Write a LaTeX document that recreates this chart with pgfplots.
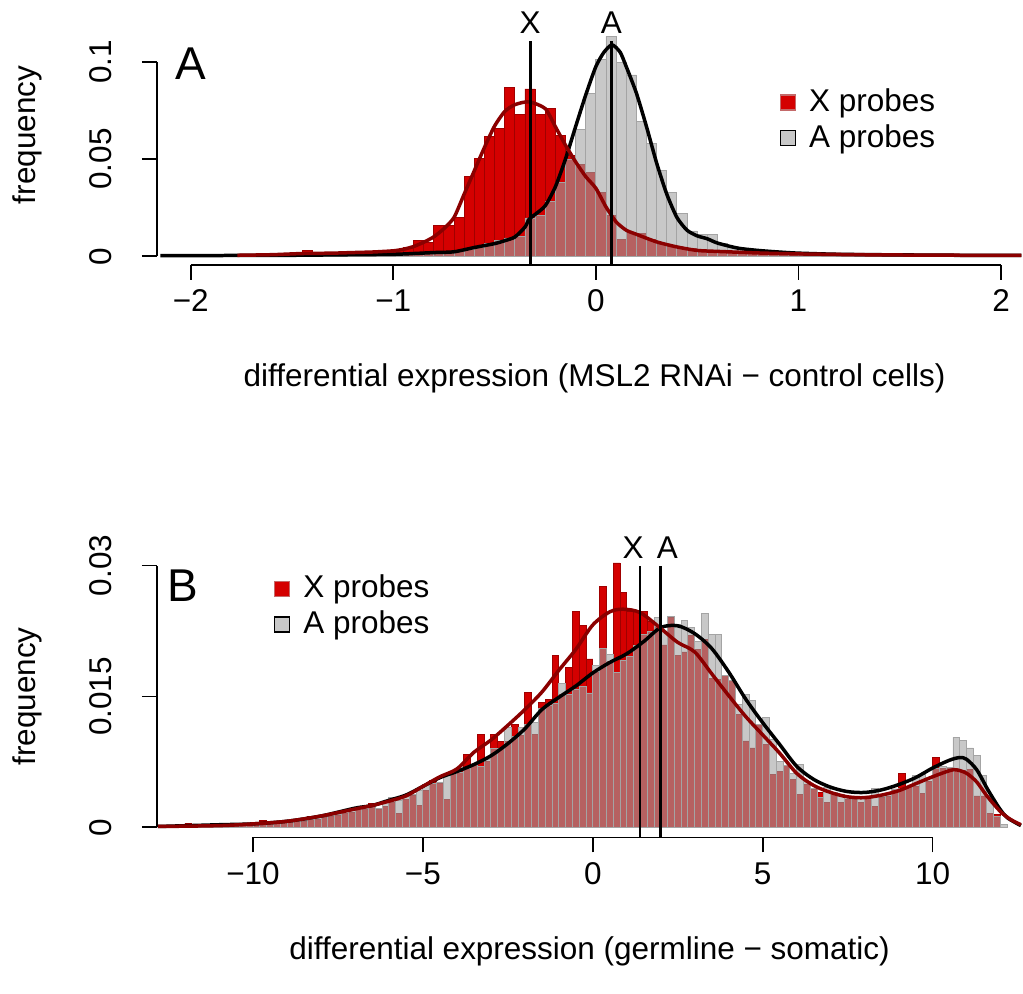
\documentclass[border=0pt]{standalone}
\usepackage{fontspec}
\setmainfont{Liberation Sans}
\usepackage{pgfplots}
\pgfplotsset{compat=1.18}
\usepackage{pgfplotstable}

\definecolor{xred}{HTML}{D40000}
\definecolor{xredline}{HTML}{A00000}
\definecolor{xredlgd}{HTML}{C46A6A}
\definecolor{agray}{HTML}{A3A3A3}
\definecolor{agrayline}{HTML}{A4A4A4}
\definecolor{lgdgray}{HTML}{C8C8C8}
\definecolor{dred}{HTML}{8B0000}

% panel A histograms (left bin edge, frequency), bin width 0.05
\pgfplotstableread{
x y
-1.60 0.0005
-1.55 0.0005
-1.50 0.0008
-1.45 0.0030
-1.40 0.0010
-1.35 0.0010
-1.30 0.0012
-1.25 0.0012
-1.20 0.0015
-1.15 0.0020
-1.10 0.0020
-1.05 0.0025
-1.00 0.0030
-0.95 0.0045
-0.90 0.0079
-0.85 0.0071
-0.80 0.0156
-0.75 0.0156
-0.70 0.0202
-0.65 0.0409
-0.60 0.0503
-0.55 0.0615
-0.50 0.0658
-0.45 0.0868
-0.40 0.0732
-0.35 0.0861
-0.30 0.0730
-0.25 0.0761
-0.20 0.0624
-0.15 0.0520
-0.10 0.0470
-0.05 0.0430
0.00 0.0330
0.05 0.0210
0.10 0.0086
0.15 0.0120
0.20 0.0117
0.25 0.0085
0.30 0.0060
0.35 0.0050
0.40 0.0043
0.45 0.0040
0.50 0.0030
0.55 0.0030
0.60 0.0022
0.65 0.0020
0.70 0.0018
0.75 0.0015
0.80 0.0012
0.85 0.0010
0.90 0.0010
0.95 0.0008
1.00 0.0008
1.05 0.0006
1.10 0.0006
1.15 0.0005
1.20 0.0005
1.25 0.0004
1.30 0.0004
1.35 0
}\redA

\pgfplotstableread{
x y
-2.10 0.0003
-2.05 0.0002
-2.00 0.0003
-1.95 0.0002
-1.90 0.0003
-1.85 0.0003
-1.80 0.0004
-1.75 0.0003
-1.70 0.0004
-1.65 0.0004
-1.60 0.0005
-1.55 0.0004
-1.50 0.0005
-1.45 0.0005
-1.40 0.0006
-1.35 0.0006
-1.30 0.0007
-1.25 0.0007
-1.20 0.0008
-1.15 0.0008
-1.10 0.0009
-1.05 0.0010
-1.00 0.0010
-0.95 0.0012
-0.90 0.0014
-0.85 0.0016
-0.80 0.0019
-0.75 0.0022
-0.70 0.0025
-0.65 0.0035
-0.60 0.0045
-0.55 0.0065
-0.50 0.0080
-0.45 0.0094
-0.40 0.0100
-0.35 0.0197
-0.30 0.0210
-0.25 0.0280
-0.20 0.0380
-0.15 0.0500
-0.10 0.0653
-0.05 0.0838
0.00 0.1014
0.05 0.1130
0.10 0.0997
0.15 0.0933
0.20 0.0692
0.25 0.0580
0.30 0.0440
0.35 0.0330
0.40 0.0220
0.45 0.0130
0.50 0.0113
0.55 0.0110
0.60 0.0065
0.65 0.0050
0.70 0.0040
0.75 0.0032
0.80 0.0026
0.85 0.0022
0.90 0.0018
0.95 0.0015
1.00 0.0012
1.05 0.0010
1.10 0.0009
1.15 0.0008
1.20 0.0008
1.25 0.0007
1.30 0.0006
1.35 0.0006
1.40 0.0005
1.45 0.0005
1.50 0.0005
1.55 0.0004
1.60 0.0004
1.65 0.0004
1.70 0.0004
1.75 0.0003
1.80 0.0003
1.85 0.0003
1.90 0.0003
1.95 0.0003
2.00 0.0003
2.05 0
}\grayA

% panel A density curves
\pgfplotstableread{
x y
-1.77 0.0005
-1.60 0.0008
-1.45 0.0014
-1.30 0.0016
-1.20 0.0019
-1.10 0.0022
-1.00 0.0028
-0.95 0.0036
-0.90 0.0050
-0.85 0.0072
-0.80 0.0100
-0.75 0.0142
-0.70 0.0200
-0.65 0.0320
-0.60 0.0440
-0.55 0.0560
-0.50 0.0670
-0.45 0.0745
-0.40 0.0780
-0.33 0.0795
-0.25 0.0760
-0.20 0.0667
-0.15 0.0572
-0.10 0.0486
-0.05 0.0410
0.00 0.0350
0.05 0.0254
0.10 0.0177
0.15 0.0134
0.20 0.0113
0.30 0.0074
0.40 0.0048
0.50 0.0030
0.60 0.0025
0.80 0.0017
1.00 0.0012
1.30 0.0008
1.60 0.0006
2.10 0.0004
}\redAd

\pgfplotstableread{
x y
-2.15 0.0003
-1.80 0.0004
-1.50 0.0005
-1.20 0.0008
-1.00 0.0010
-0.90 0.0014
-0.80 0.0019
-0.70 0.0023
-0.60 0.0045
-0.50 0.0065
-0.45 0.0080
-0.40 0.0099
-0.35 0.0150
-0.33 0.0190
-0.30 0.0215
-0.25 0.0260
-0.20 0.0357
-0.15 0.0500
-0.10 0.0667
-0.05 0.0830
0.00 0.0976
0.04 0.1050
0.08 0.1088
0.12 0.1050
0.15 0.0976
0.20 0.0840
0.25 0.0667
0.30 0.0480
0.35 0.0320
0.40 0.0200
0.45 0.0134
0.50 0.0105
0.55 0.0090
0.60 0.0068
0.70 0.0042
0.80 0.0030
0.90 0.0022
1.00 0.0016
1.20 0.0010
1.50 0.0007
1.80 0.0005
2.10 0.0004
}\grayAd

% panel B histograms (left bin edge, frequency), bin width 0.2
\pgfplotstableread{
x y
-12.0 0.0005
-11.8 0.0000
-11.6 0.0001
-11.4 0.0000
-11.2 0.0001
-11.0 0.0002
-10.8 0.0001
-10.6 0.0002
-10.4 0.0002
-10.2 0.0004
-10.0 0.0003
-9.8 0.0008
-9.6 0.0004
-9.4 0.0005
-9.2 0.0006
-9.0 0.0006
-8.8 0.0007
-8.6 0.0007
-8.4 0.0012
-8.2 0.0009
-8.0 0.0011
-7.8 0.0013
-7.6 0.0014
-7.4 0.0016
-7.2 0.0017
-7.0 0.0020
-6.8 0.0021
-6.6 0.0027
-6.4 0.0020
-6.2 0.0024
-6.0 0.0028
-5.8 0.0016
-5.6 0.0032
-5.4 0.0037
-5.2 0.0025
-5.0 0.0042
-4.8 0.0054
-4.6 0.0050
-4.4 0.0032
-4.2 0.0064
-4.0 0.0066
-3.8 0.0084
-3.6 0.0071
-3.4 0.0107
-3.2 0.0076
-3.0 0.0107
-2.8 0.0098
-2.6 0.0098
-2.4 0.0118
-2.2 0.0105
-2.0 0.0155
-1.8 0.0106
-1.6 0.0143
-1.4 0.0147
-1.2 0.0197
-1.0 0.0152
-0.8 0.0183
-0.6 0.0247
-0.4 0.0231
-0.2 0.0193
0.0 0.0178
0.2 0.0276
0.4 0.0190
0.6 0.0303
0.8 0.0269
1.0 0.0247
1.2 0.0248
1.4 0.0247
1.6 0.0236
1.8 0.0229
2.0 0.0209
2.2 0.0240
2.4 0.0197
2.6 0.0201
2.8 0.0220
3.0 0.0204
3.2 0.0215
3.4 0.0171
3.6 0.0169
3.8 0.0174
4.0 0.0168
4.2 0.0129
4.4 0.0099
4.6 0.0091
4.8 0.0118
5.0 0.0095
5.2 0.0061
5.4 0.0064
5.6 0.0071
5.8 0.0055
6.0 0.0038
6.2 0.0049
6.4 0.0044
6.6 0.0040
6.8 0.0029
7.0 0.0040
7.2 0.0028
7.4 0.0032
7.6 0.0032
7.8 0.0028
8.0 0.0036
8.2 0.0024
8.4 0.0034
8.6 0.0036
8.8 0.0044
9.0 0.0062
9.2 0.0047
9.4 0.0047
9.6 0.0039
9.8 0.0053
10.0 0.0080
10.2 0.0068
10.4 0.0068
10.6 0.0066
10.8 0.0065
11.0 0.0066
11.2 0.0036
11.4 0.0036
11.6 0.0016
11.8 0.0015
12.0 0
}\redB

\pgfplotstableread{
x y
-12.0 0.0001
-11.8 0.0001
-11.6 0.0002
-11.4 0.0002
-11.2 0.0002
-11.0 0.0003
-10.8 0.0003
-10.6 0.0003
-10.4 0.0004
-10.2 0.0003
-10.0 0.0004
-9.8 0.0004
-9.6 0.0005
-9.4 0.0005
-9.2 0.0006
-9.0 0.0007
-8.8 0.0007
-8.6 0.0008
-8.4 0.0009
-8.2 0.0011
-8.0 0.0012
-7.8 0.0014
-7.6 0.0015
-7.4 0.0018
-7.2 0.0022
-7.0 0.0020
-6.8 0.0023
-6.6 0.0024
-6.4 0.0022
-6.2 0.0029
-6.0 0.0034
-5.8 0.0031
-5.6 0.0035
-5.4 0.0038
-5.2 0.0042
-5.0 0.0049
-4.8 0.0050
-4.6 0.0052
-4.4 0.0061
-4.2 0.0062
-4.0 0.0063
-3.8 0.0068
-3.6 0.0072
-3.4 0.0070
-3.2 0.0078
-3.0 0.0090
-2.8 0.0090
-2.6 0.0114
-2.4 0.0104
-2.2 0.0115
-2.0 0.0118
-1.8 0.0120
-1.6 0.0136
-1.4 0.0140
-1.2 0.0142
-1.0 0.0165
-0.8 0.0152
-0.6 0.0158
-0.4 0.0162
-0.2 0.0154
0.0 0.0186
0.2 0.0205
0.4 0.0198
0.6 0.0177
0.8 0.0191
1.0 0.0196
1.2 0.0208
1.4 0.0221
1.6 0.0225
1.8 0.0240
2.0 0.0225
2.2 0.0242
2.4 0.0232
2.6 0.0237
2.8 0.0229
3.0 0.0213
3.2 0.0245
3.4 0.0221
3.6 0.0221
3.8 0.0174
4.0 0.0168
4.2 0.0141
4.4 0.0152
4.6 0.0145
4.8 0.0118
5.0 0.0126
5.2 0.0101
5.4 0.0076
5.6 0.0071
5.8 0.0062
6.0 0.0072
6.2 0.0053
6.4 0.0045
6.6 0.0034
6.8 0.0046
7.0 0.0040
7.2 0.0038
7.4 0.0036
7.6 0.0036
7.8 0.0034
8.0 0.0036
8.2 0.0045
8.4 0.0036
8.6 0.0038
8.8 0.0044
9.0 0.0045
9.2 0.0047
9.4 0.0060
9.6 0.0061
9.8 0.0056
10.0 0.0068
10.2 0.0070
10.4 0.0069
10.6 0.0103
10.8 0.0100
11.0 0.0091
11.2 0.0082
11.4 0.0059
11.6 0.0036
11.8 0.0013
12.0 0.0003
12.2 0
}\grayB

% panel B density curves
\pgfplotstableread{
x y
-12.8 0.0001
-11.0 0.0002
-10.0 0.0004
-9.0 0.0007
-8.0 0.0013
-7.0 0.0021
-6.5 0.0025
-6.0 0.0030
-5.5 0.0036
-5.0 0.0047
-4.5 0.0058
-4.0 0.0067
-3.5 0.0086
-3.0 0.0100
-2.5 0.0117
-2.0 0.0135
-1.5 0.0155
-1.0 0.0180
-0.5 0.0204
0.0 0.0232
0.5 0.0247
0.9 0.0250
1.4 0.0246
2.0 0.0228
2.5 0.0212
3.0 0.0201
3.5 0.0176
4.0 0.0151
4.5 0.0127
5.0 0.0106
5.5 0.0085
6.0 0.0062
6.5 0.0048
7.0 0.0040
7.5 0.0035
8.0 0.0034
8.5 0.0037
9.0 0.0042
9.5 0.0050
10.0 0.0058
10.5 0.0065
10.7 0.0066
11.0 0.0062
11.3 0.0052
11.6 0.0036
12.0 0.0018
12.3 0.0009
12.6 0.0003
}\redBd

\pgfplotstableread{
x y
-12.8 0.0001
-11.0 0.0003
-10.0 0.0004
-9.0 0.0007
-8.0 0.0013
-7.0 0.0022
-6.5 0.0025
-6.0 0.0031
-5.5 0.0037
-5.0 0.0047
-4.5 0.0057
-4.0 0.0064
-3.5 0.0072
-3.0 0.0082
-2.5 0.0096
-2.0 0.0113
-1.5 0.0135
-1.0 0.0149
-0.5 0.0162
0.0 0.0177
0.5 0.0189
1.0 0.0199
1.5 0.0213
2.0 0.0229
2.5 0.0231
3.0 0.0222
3.5 0.0205
4.0 0.0178
4.5 0.0147
5.0 0.0120
5.5 0.0095
6.0 0.0070
6.5 0.0055
7.0 0.0046
7.5 0.0041
8.0 0.0040
8.5 0.0043
9.0 0.0049
9.5 0.0057
10.0 0.0068
10.5 0.0077
10.8 0.0080
11.0 0.0078
11.3 0.0066
11.6 0.0045
11.8 0.0032
12.0 0.0020
12.2 0.0011
12.6 0.0002
}\grayBd

\newcommand{\lbl}{\fontsize{31.5}{37}\selectfont}

\pgfplotsset{
  rhist/.style={
    scale only axis, width=866pt, clip=false,
    axis line style={draw=none},
    scaled y ticks=false, scaled x ticks=false,
    tick align=outside, xtick pos=left, ytick pos=left,
    major tick length=15pt,
    tick style={black, line width=1.8pt},
    tick label style={font=\lbl},
    xticklabel style={anchor=base, inner sep=0pt, yshift=-32pt},
    yticklabel style={xshift=-30pt, rotate=90, anchor=south, inner sep=0pt},
    legend cell align=left,
    legend style={draw=none, fill=none, inner sep=0pt, font=\lbl,
      row sep=8pt, anchor=west, nodes={inner sep=0pt},
      /tikz/every odd column/.append style={column sep=13pt}},
  },
  redsq/.style={legend image code/.code={\draw[fill=xred, draw=xredlgd, line width=1.5pt] (0pt,-7.5pt) rectangle (15pt,7.5pt);}},
  graysq/.style={legend image code/.code={\draw[fill=lgdgray, draw=black, line width=1.5pt] (0pt,-7.5pt) rectangle (15pt,7.5pt);}},
}

\begin{document}
\lbl
\begin{tikzpicture}
\path (0pt,0pt) rectangle (1023pt,994pt);

% ---------- panel A ----------
\begin{axis}[rhist, at={(157pt,729pt)}, anchor=south west, height=224pt,
  xmin=-2.167, xmax=2.105, ymin=-0.0044, ymax=0.1108,
  xtick={-2,-1,0,1,2}, xticklabels={−2,−1,0,1,2},
  ytick={0,0.05,0.1}, yticklabels={0,0.05,0.1},
  legend style={at={(0.7194,0.645)}}]
\addlegendimage{redsq}\addlegendentry{X probes}
\addlegendimage{graysq}\addlegendentry{A probes}
\addplot[ybar interval, fill=xred, draw=xredline, line width=0.9pt] table {\redA};
\addplot[ybar interval, fill=agray, fill opacity=0.6, draw=agrayline, line width=0.9pt] table {\grayA};
\addplot[black, line width=3.5pt, smooth, tension=0.4] table {\grayAd};
\addplot[dred, line width=3.5pt, smooth, tension=0.4] table {\redAd};
\addplot[black, line width=2.6pt] coordinates {(-0.324,-0.0044) (-0.324,0.1108)};
\addplot[black, line width=2.6pt] coordinates {(0.077,-0.0044) (0.077,0.1108)};
\draw[line width=1.8pt] (axis cs:-2,-0.0044) -- (axis cs:2,-0.0044);
\draw[line width=1.8pt] (axis cs:-2.167,0) -- (axis cs:-2.167,0.1);
\node[anchor=base] at (axis cs:-0.324,0.1108) [yshift=7pt] {X};
\node[anchor=base] at (axis cs:0.077,0.1108) [yshift=7pt] {A};
\end{axis}
\node[anchor=base, font=\fontsize{46}{50}\selectfont] at (191pt,914.7pt) {A};
\node[anchor=base] at (595pt,607pt) {differential expression (MSL2 RNAi − control cells)};
\node[anchor=base, rotate=90] at (36pt,859pt) {frequency};

% ---------- panel B ----------
\begin{axis}[rhist, at={(157pt,156pt)}, anchor=south west, height=272pt,
  xmin=-12.83, xmax=12.64, ymin=-0.00115, ymax=0.030,
  xtick={-10,-5,0,5,10}, xticklabels={−10,−5,0,5,10},
  ytick={0,0.015,0.03}, yticklabels={0,0.015,0.03},
  legend style={at={(0.135,0.849)}}]
\addlegendimage{redsq}\addlegendentry{X probes}
\addlegendimage{graysq}\addlegendentry{A probes}
\addplot[ybar interval, fill=xred, draw=xredline, line width=0.9pt] table {\redB};
\addplot[ybar interval, fill=agray, fill opacity=0.6, draw=agrayline, line width=0.9pt] table {\grayB};
\addplot[black, line width=3.5pt, smooth, tension=0.5] table {\grayBd};
\addplot[dred, line width=3.5pt, smooth, tension=0.5] table {\redBd};
\addplot[black, line width=2.6pt] coordinates {(1.394,-0.00115) (1.394,0.030)};
\addplot[black, line width=2.6pt] coordinates {(1.99,-0.00115) (1.99,0.030)};
\draw[line width=1.8pt] (axis cs:-10,-0.00115) -- (axis cs:10,-0.00115);
\draw[line width=1.8pt] (axis cs:-12.83,0) -- (axis cs:-12.83,0.03);
\node[anchor=base] at (axis cs:1.394,0.030) [xshift=-7pt, yshift=7pt] {X};
\node[anchor=base] at (axis cs:1.99,0.030) [xshift=7pt, yshift=7pt] {A};
\end{axis}
\node[anchor=base, font=\fontsize{46}{50}\selectfont] at (183pt,392.3pt) {B};
\node[anchor=base] at (590pt,34pt) {differential expression (germline − somatic)};
\node[anchor=base, rotate=90] at (36pt,297pt) {frequency};
\end{tikzpicture}
\end{document}
